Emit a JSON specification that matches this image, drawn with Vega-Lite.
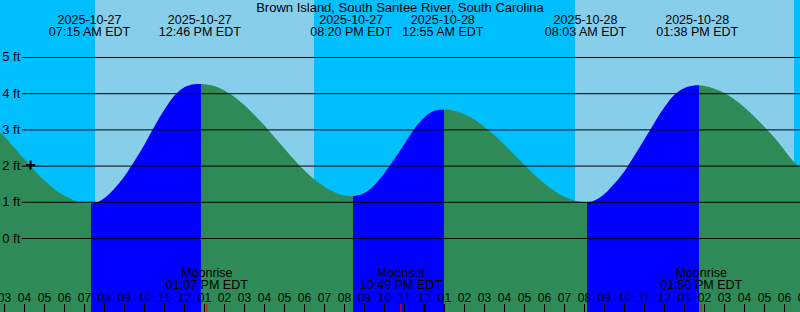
{
  "$schema": "https://vega.github.io/schema/vega-lite/v6.json",
  "width": 800,
  "height": 312,
  "padding": 0,
  "autosize": "none",
  "config": {"view": {"stroke": null}, "font": "Liberation Sans"},
  "datasets": {
    "sky": [
      {"t": 2.775, "t2": 7.525, "kind": "night"},
      {"t": 7.525, "t2": 18.475, "kind": "day"},
      {"t": 18.475, "t2": 31.525, "kind": "night"},
      {"t": 31.525, "t2": 42.475, "kind": "day"},
      {"t": 42.475, "t2": 42.775, "kind": "night"}
    ],
    "tide": [
      {"t": 2.775, "ft": 2.93, "seg": "s0", "dir": "falling"},
      {"t": 3.0, "ft": 2.82, "seg": "s0", "dir": "falling"},
      {"t": 3.5, "ft": 2.5, "seg": "s0", "dir": "falling"},
      {"t": 4.0, "ft": 2.19, "seg": "s0", "dir": "falling"},
      {"t": 4.5, "ft": 1.88, "seg": "s0", "dir": "falling"},
      {"t": 5.0, "ft": 1.6, "seg": "s0", "dir": "falling"},
      {"t": 5.5, "ft": 1.36, "seg": "s0", "dir": "falling"},
      {"t": 6.0, "ft": 1.18, "seg": "s0", "dir": "falling"},
      {"t": 6.5, "ft": 1.05, "seg": "s0", "dir": "falling"},
      {"t": 7.0, "ft": 0.98, "seg": "s0", "dir": "falling"},
      {"t": 7.325, "ft": 0.97, "seg": "s0", "dir": "falling"},
      {"t": 7.325, "ft": 0.97, "seg": "s1", "dir": "rising"},
      {"t": 7.5, "ft": 0.98, "seg": "s1", "dir": "rising"},
      {"t": 8.0, "ft": 1.12, "seg": "s1", "dir": "rising"},
      {"t": 8.5, "ft": 1.38, "seg": "s1", "dir": "rising"},
      {"t": 9.0, "ft": 1.72, "seg": "s1", "dir": "rising"},
      {"t": 9.5, "ft": 2.14, "seg": "s1", "dir": "rising"},
      {"t": 10.0, "ft": 2.6, "seg": "s1", "dir": "rising"},
      {"t": 10.5, "ft": 3.1, "seg": "s1", "dir": "rising"},
      {"t": 11.0, "ft": 3.56, "seg": "s1", "dir": "rising"},
      {"t": 11.5, "ft": 3.95, "seg": "s1", "dir": "rising"},
      {"t": 12.0, "ft": 4.18, "seg": "s1", "dir": "rising"},
      {"t": 12.5, "ft": 4.26, "seg": "s1", "dir": "rising"},
      {"t": 12.825, "ft": 4.27, "seg": "s1", "dir": "rising"},
      {"t": 12.825, "ft": 4.27, "seg": "s2", "dir": "falling"},
      {"t": 13.5, "ft": 4.21, "seg": "s2", "dir": "falling"},
      {"t": 14.0, "ft": 4.09, "seg": "s2", "dir": "falling"},
      {"t": 14.5, "ft": 3.91, "seg": "s2", "dir": "falling"},
      {"t": 15.0, "ft": 3.68, "seg": "s2", "dir": "falling"},
      {"t": 15.5, "ft": 3.41, "seg": "s2", "dir": "falling"},
      {"t": 16.0, "ft": 3.12, "seg": "s2", "dir": "falling"},
      {"t": 16.5, "ft": 2.8, "seg": "s2", "dir": "falling"},
      {"t": 17.0, "ft": 2.48, "seg": "s2", "dir": "falling"},
      {"t": 17.5, "ft": 2.17, "seg": "s2", "dir": "falling"},
      {"t": 18.0, "ft": 1.88, "seg": "s2", "dir": "falling"},
      {"t": 18.5, "ft": 1.63, "seg": "s2", "dir": "falling"},
      {"t": 19.0, "ft": 1.43, "seg": "s2", "dir": "falling"},
      {"t": 19.5, "ft": 1.28, "seg": "s2", "dir": "falling"},
      {"t": 20.0, "ft": 1.19, "seg": "s2", "dir": "falling"},
      {"t": 20.425, "ft": 1.17, "seg": "s2", "dir": "falling"},
      {"t": 20.425, "ft": 1.17, "seg": "s3", "dir": "rising"},
      {"t": 21.0, "ft": 1.26, "seg": "s3", "dir": "rising"},
      {"t": 21.5, "ft": 1.48, "seg": "s3", "dir": "rising"},
      {"t": 22.0, "ft": 1.81, "seg": "s3", "dir": "rising"},
      {"t": 22.5, "ft": 2.2, "seg": "s3", "dir": "rising"},
      {"t": 23.0, "ft": 2.62, "seg": "s3", "dir": "rising"},
      {"t": 23.5, "ft": 3.03, "seg": "s3", "dir": "rising"},
      {"t": 24.0, "ft": 3.35, "seg": "s3", "dir": "rising"},
      {"t": 24.5, "ft": 3.53, "seg": "s3", "dir": "rising"},
      {"t": 24.975, "ft": 3.56, "seg": "s3", "dir": "rising"},
      {"t": 24.975, "ft": 3.56, "seg": "s4", "dir": "falling"},
      {"t": 25.5, "ft": 3.53, "seg": "s4", "dir": "falling"},
      {"t": 26.0, "ft": 3.43, "seg": "s4", "dir": "falling"},
      {"t": 26.5, "ft": 3.28, "seg": "s4", "dir": "falling"},
      {"t": 27.0, "ft": 3.09, "seg": "s4", "dir": "falling"},
      {"t": 27.5, "ft": 2.85, "seg": "s4", "dir": "falling"},
      {"t": 28.0, "ft": 2.59, "seg": "s4", "dir": "falling"},
      {"t": 28.5, "ft": 2.31, "seg": "s4", "dir": "falling"},
      {"t": 29.0, "ft": 2.03, "seg": "s4", "dir": "falling"},
      {"t": 29.5, "ft": 1.76, "seg": "s4", "dir": "falling"},
      {"t": 30.0, "ft": 1.52, "seg": "s4", "dir": "falling"},
      {"t": 30.5, "ft": 1.31, "seg": "s4", "dir": "falling"},
      {"t": 31.0, "ft": 1.15, "seg": "s4", "dir": "falling"},
      {"t": 31.5, "ft": 1.05, "seg": "s4", "dir": "falling"},
      {"t": 32.125, "ft": 1.0, "seg": "s4", "dir": "falling"},
      {"t": 32.125, "ft": 1.0, "seg": "s5", "dir": "rising"},
      {"t": 32.5, "ft": 1.05, "seg": "s5", "dir": "rising"},
      {"t": 33.0, "ft": 1.23, "seg": "s5", "dir": "rising"},
      {"t": 33.5, "ft": 1.52, "seg": "s5", "dir": "rising"},
      {"t": 34.0, "ft": 1.86, "seg": "s5", "dir": "rising"},
      {"t": 34.5, "ft": 2.29, "seg": "s5", "dir": "rising"},
      {"t": 35.0, "ft": 2.74, "seg": "s5", "dir": "rising"},
      {"t": 35.5, "ft": 3.2, "seg": "s5", "dir": "rising"},
      {"t": 36.0, "ft": 3.63, "seg": "s5", "dir": "rising"},
      {"t": 36.5, "ft": 3.97, "seg": "s5", "dir": "rising"},
      {"t": 37.0, "ft": 4.16, "seg": "s5", "dir": "rising"},
      {"t": 37.4, "ft": 4.22, "seg": "s5", "dir": "rising"},
      {"t": 37.725, "ft": 4.23, "seg": "s5", "dir": "rising"},
      {"t": 37.725, "ft": 4.23, "seg": "s6", "dir": "falling"},
      {"t": 38.0, "ft": 4.21, "seg": "s6", "dir": "falling"},
      {"t": 38.5, "ft": 4.14, "seg": "s6", "dir": "falling"},
      {"t": 39.0, "ft": 4.02, "seg": "s6", "dir": "falling"},
      {"t": 39.5, "ft": 3.84, "seg": "s6", "dir": "falling"},
      {"t": 40.0, "ft": 3.62, "seg": "s6", "dir": "falling"},
      {"t": 40.5, "ft": 3.36, "seg": "s6", "dir": "falling"},
      {"t": 41.0, "ft": 3.08, "seg": "s6", "dir": "falling"},
      {"t": 41.5, "ft": 2.78, "seg": "s6", "dir": "falling"},
      {"t": 42.0, "ft": 2.44, "seg": "s6", "dir": "falling"},
      {"t": 42.5, "ft": 2.1, "seg": "s6", "dir": "falling"},
      {"t": 42.775, "ft": 1.97, "seg": "s6", "dir": "falling"}
    ],
    "grid": [
      {"ft": 0, "label": "0 ft"},
      {"ft": 1, "label": "1 ft"},
      {"ft": 2, "label": "2 ft"},
      {"ft": 3, "label": "3 ft"},
      {"ft": 4, "label": "4 ft"},
      {"ft": 5, "label": "5 ft"}
    ],
    "hours": [
      {"t": 3, "label": "03"}, {"t": 4, "label": "04"}, {"t": 5, "label": "05"}, {"t": 6, "label": "06"},
      {"t": 7, "label": "07"}, {"t": 8, "label": "08"}, {"t": 9, "label": "09"}, {"t": 10, "label": "10"},
      {"t": 11, "label": "11"}, {"t": 12, "label": "12"}, {"t": 13, "label": "01"}, {"t": 14, "label": "02"},
      {"t": 15, "label": "03"}, {"t": 16, "label": "04"}, {"t": 17, "label": "05"}, {"t": 18, "label": "06"},
      {"t": 19, "label": "07"}, {"t": 20, "label": "08"}, {"t": 21, "label": "09"}, {"t": 22, "label": "10"},
      {"t": 23, "label": "11"}, {"t": 24, "label": "12"}, {"t": 25, "label": "01"}, {"t": 26, "label": "02"},
      {"t": 27, "label": "03"}, {"t": 28, "label": "04"}, {"t": 29, "label": "05"}, {"t": 30, "label": "06"},
      {"t": 31, "label": "07"}, {"t": 32, "label": "08"}, {"t": 33, "label": "09"}, {"t": 34, "label": "10"},
      {"t": 35, "label": "11"}, {"t": 36, "label": "12"}, {"t": 37, "label": "01"}, {"t": 38, "label": "02"},
      {"t": 39, "label": "03"}, {"t": 40, "label": "04"}, {"t": 41, "label": "05"}, {"t": 42, "label": "06"},
      {"t": 43, "label": "07"}
    ],
    "events": [
      {"t": 7.25, "label": "2025-10-27\n07:15 AM EDT"},
      {"t": 12.767, "label": "2025-10-27\n12:46 PM EDT"},
      {"t": 20.333, "label": "2025-10-27\n08:20 PM EDT"},
      {"t": 24.917, "label": "2025-10-28\n12:55 AM EDT"},
      {"t": 32.05, "label": "2025-10-28\n08:03 AM EDT"},
      {"t": 37.633, "label": "2025-10-28\n01:38 PM EDT"}
    ],
    "moon": [
      {"t": 13.117, "label": "Moonrise\n01:07 PM EDT"},
      {"t": 22.817, "label": "Moonset\n10:49 PM EDT"},
      {"t": 37.833, "label": "Moonrise\n01:50 PM EDT"}
    ],
    "midnight": [{"t": 24}],
    "title": [{"t": 22.775, "label": "Brown Island, South Santee River, South Carolina"}],
    "now": [{"t": 4.3, "ft": 2.03}]
  },
  "layer": [
    {
      "data": {"name": "sky"},
      "mark": {"type": "rect"},
      "encoding": {
        "x": {"field": "t", "type": "quantitative", "scale": {"domain": [2.775, 42.775], "nice": false, "zero": false}, "axis": null},
        "x2": {"field": "t2"},
        "y": {"datum": 6.588, "type": "quantitative", "scale": {"domain": [-2.03, 6.588], "nice": false, "zero": false}, "axis": null},
        "y2": {"datum": -2.03},
        "fill": {"field": "kind", "type": "nominal", "scale": {"domain": ["day", "night"], "range": ["#87CEEB", "#00BFFF"]}, "legend": null}
      }
    },
    {
      "data": {"name": "tide"},
      "mark": {"type": "area", "interpolate": "monotone", "opacity": 1},
      "encoding": {
        "x": {"field": "t", "type": "quantitative", "scale": {"domain": [2.775, 42.775], "nice": false, "zero": false}, "axis": null},
        "y": {"field": "ft", "type": "quantitative", "scale": {"domain": [-2.03, 6.588], "nice": false, "zero": false}, "axis": null},
        "y2": {"datum": -2.03},
        "color": {"field": "dir", "type": "nominal", "scale": {"domain": ["falling", "rising"], "range": ["#2E8B57", "#0000FF"]}, "legend": null},
        "detail": {"field": "seg"}
      }
    },
    {
      "data": {"name": "grid"},
      "mark": {"type": "rule", "color": "black", "strokeWidth": 1},
      "encoding": {
        "x": {"datum": 3.86, "type": "quantitative", "axis": null},
        "x2": {"datum": 42.775},
        "y": {"field": "ft", "type": "quantitative", "axis": null}
      }
    },
    {
      "data": {"name": "grid"},
      "mark": {"type": "text", "align": "left", "baseline": "middle", "font": "Liberation Sans", "fontSize": 13, "color": "black"},
      "encoding": {
        "x": {"datum": 2.885, "type": "quantitative", "axis": null},
        "y": {"field": "ft", "type": "quantitative", "axis": null},
        "text": {"field": "label"}
      }
    },
    {
      "data": {"name": "hours"},
      "mark": {"type": "rule", "color": "black", "strokeWidth": 1},
      "encoding": {
        "x": {"field": "t", "type": "quantitative", "axis": null},
        "y": {"datum": -1.809, "type": "quantitative", "axis": null},
        "y2": {"datum": -2.03}
      }
    },
    {
      "data": {"name": "hours"},
      "mark": {"type": "text", "align": "center", "baseline": "alphabetic", "font": "Liberation Sans", "fontSize": 12, "color": "black"},
      "encoding": {
        "x": {"field": "t", "type": "quantitative", "axis": null},
        "y": {"datum": -1.754, "type": "quantitative", "axis": null},
        "text": {"field": "label"}
      }
    },
    {
      "data": {"name": "midnight"},
      "mark": {"type": "rule", "color": "black", "strokeWidth": 2},
      "encoding": {
        "x": {"field": "t", "type": "quantitative", "axis": null},
        "y": {"datum": -1.809, "type": "quantitative", "axis": null},
        "y2": {"datum": -2.03}
      }
    },
    {
      "data": {"name": "moon"},
      "mark": {"type": "rule", "color": "#FF0000", "strokeWidth": 1},
      "encoding": {
        "x": {"field": "t", "type": "quantitative", "axis": null},
        "y": {"datum": -1.809, "type": "quantitative", "axis": null},
        "y2": {"datum": -2.03}
      }
    },
    {
      "data": {"name": "title"},
      "mark": {"type": "text", "align": "center", "baseline": "alphabetic", "font": "Liberation Sans", "fontSize": 13, "color": "black"},
      "encoding": {
        "x": {"field": "t", "type": "quantitative", "axis": null},
        "y": {"datum": 6.265, "type": "quantitative", "axis": null},
        "text": {"field": "label"}
      }
    },
    {
      "data": {"name": "events"},
      "mark": {"type": "text", "align": "center", "baseline": "alphabetic", "lineBreak": "\n", "lineHeight": 12.3, "font": "Liberation Sans", "fontSize": 12.5, "color": "black"},
      "encoding": {
        "x": {"field": "t", "type": "quantitative", "axis": null},
        "y": {"datum": 5.925, "type": "quantitative", "axis": null},
        "text": {"field": "label"}
      }
    },
    {
      "data": {"name": "moon"},
      "mark": {"type": "text", "align": "center", "baseline": "alphabetic", "lineBreak": "\n", "lineHeight": 12.3, "font": "Liberation Sans", "fontSize": 12.5, "color": "black"},
      "encoding": {
        "x": {"field": "t", "type": "quantitative", "axis": null},
        "y": {"datum": -1.0635, "type": "quantitative", "axis": null},
        "text": {"field": "label"}
      }
    },
    {
      "data": {"name": "now"},
      "mark": {"type": "point", "shape": "M-1,0H1M0,-1V1", "size": 81, "strokeWidth": 2, "filled": false, "color": "black", "opacity": 1},
      "encoding": {
        "x": {"field": "t", "type": "quantitative", "axis": null},
        "y": {"field": "ft", "type": "quantitative", "axis": null}
      }
    }
  ]
}
